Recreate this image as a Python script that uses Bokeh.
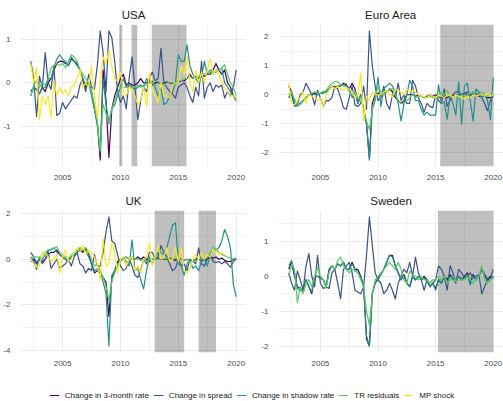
import numpy as np
import pandas as pd
from bokeh.plotting import figure
from bokeh.layouts import column, row
from bokeh.models import Range1d, FixedTicker, Legend, LegendItem
from bokeh.embed import file_html
from bokeh.resources import INLINE

nan = float("nan")

# quarterly dates 2002Q2 .. 2020Q1 as decimal years
quarters = pd.period_range("2002Q2", "2020Q1", freq="Q")
dates = [q.year + (q.quarter - 1) / 4 for q in quarters]

series_names = ["Change in 3-month rate", "Change in spread", "Change in shadow rate",
                "TR residuals", "MP shock"]
series_colors = ["#440154", "#3B528B", "#21908C", "#5DC863", "#FDE725"]

x_ticks = [2005, 2010, 2015, 2020]
x_tick_labels = ["2005", "2010", "2015", "2020"]
x_minor = [2002.5, 2007.5, 2012.5, 2017.5]

# ---------------- USA ----------------
usa_r3m = [
    -0.2, -0.1, -0.15, -0.25, -0.1, -0.2, 0.0, 0.1, 0.3, 0.45, 0.5, 0.5,
    0.45, 0.4, 0.55, 0.5, 0.45, 0.3, 0.05, -0.1, 0.0, -0.2, -0.6, -0.9,
    -1.78, 0.3, -0.4, -1.72, -0.6, -0.3, -0.1, 0.1, 0.2, -0.05, 0.0, -0.05,
    -0.05, 0.0, 0.1, 0.0, 0.0, 0.05, -0.05, 0.0, 0.02, -0.03, 0.0, 0.02,
    0.0, -0.02, 0.0, 0.02, 0.05, 0.05, 0.1, 0.2, 0.1, 0.15, 0.1, 0.2,
    0.15, 0.2, 0.2, 0.3, 0.45, 0.3, 0.2, 0.3, 0.0, -0.1, -0.3, -0.35]
usa_spread = [
    0.5, 0.1, -0.78, 0.15, -0.1, 0.7, 0.0, -0.15, 0.4, -0.75, -0.7, -0.45,
    -0.6, -0.5, -0.4, -0.3, -0.35, -0.05, 0.1, -0.2, 0.2, -0.1, -0.15, 0.4,
    1.2, 0.7, -0.2, 1.2, 1.05, 0.5, -0.2, -0.45, -0.3, -0.6, 0.1, 0.6,
    -0.1, -0.85, -0.4, -0.1, -0.2, 0.1, 0.25, 0.05, 0.1, 0.8, 0.0, -0.1,
    -0.2, -0.25, -0.35, -0.1, -0.05, 0.0, -0.1, -0.3, -0.45, -0.1, -0.3, 0.5,
    -0.35, -0.1, 0.0, -0.2, -0.05, -0.1, -0.05, -0.35, -0.2, -0.3, -0.1, 0.3]
usa_shadow = [
    -0.3, -0.1, -0.15, -0.25, -0.1, -0.1, 0.1, 0.1, 0.35, 0.55, 0.65, 0.55,
    0.5, 0.4, 0.6, 0.5, 0.4, 0.3, 0.1, -0.05, 0.0, -0.3, -0.6, -1.0,
    -1.6, 0.1, -0.5, -0.9, -0.6, -0.5, -0.3, -0.1, 0.1, -0.1, -0.05, -0.1,
    -0.15, -0.1, -0.05, -0.1, 0.1, 0.0, 0.05, -0.1, -0.3, -0.1, -0.5, -0.45,
    -0.3, -0.2, 0.0, 0.65, 0.5, 0.5, 0.88, 0.4, 0.2, 0.1, 0.0, 0.15,
    0.5, 0.2, 0.3, 0.25, 0.25, 0.3, 0.35, 0.0, -0.1, -0.2, -0.3, -0.42]
usa_tr = [
    -0.3, -0.05, 0.05, -0.1, 0.0, -0.05, 0.1, 0.35, 0.4, 0.45, 0.4, 0.45,
    0.35, 0.5, 0.65, 0.6, 0.5, 0.3, 0.2, 0.1, 0.0, -0.2, -0.5, -0.9,
    -1.55, -0.5, -0.7, -0.95, -0.6, -0.4, -0.2, -0.1, -0.1, -0.1, -0.1, -0.1,
    -0.1, -0.05, -0.1, -0.05, -0.05, 0.0, 0.0, -0.05, 0.0, 0.0, -0.05, 0.0,
    0.0, 0.0, 0.0, 0.05, 0.05, 0.1, 0.1, 0.15, 0.1, 0.1, 0.15, 0.2,
    0.2, 0.25, 0.25, 0.2, 0.3, 0.3, 0.35, 0.42, 0.2, 0.0, -0.1, -0.3]
usa_mp = [
    0.45, 0.0, 0.35, -0.85, -0.3, -0.5, -0.3, -0.8, 0.05, -0.3, -0.1, -0.25,
    -0.15, -0.3, -0.1, -0.05, 0.1, 0.3, -0.1, 0.0, -0.1, 0.4, -0.3, -0.8,
    0.0, 0.6, 0.45, 0.75, 0.4, 0.1, 0.05, 0.25, -0.2, -0.3, -0.1, -0.15,
    -0.3, -0.5, -0.4, -0.1, -0.55, 0.25, -0.15, -0.3, -0.45, 0.0, -0.3, -0.3,
    -0.35, -0.05, 0.0, 0.0, 0.4, 0.2, 0.6, 0.0, -0.2, 0.3, 0.0, 0.25,
    0.0, 0.3, 0.55, 0.2, 0.3, 0.2, 0.0, -0.1, -0.2, -0.3, -0.3, -0.35]
usa_shade_start = [2009.9, 2010.95, 2012.7]
usa_shade_end = [2010.15, 2011.45, 2015.7]
usa_yticks = [-1, 0, 1]
usa_ytick_labels = ["-1", "0", "1"]
usa_yminor = [-1.5, -0.5, 0.5]

# ---------------- Euro Area ----------------
eu_r3m = [
    0.3, 0.1, -0.3, -0.35, -0.3, -0.2, -0.1, 0.0, 0.0, 0.05, 0.0, 0.05,
    0.1, 0.1, 0.2, 0.3, 0.25, 0.3, 0.3, 0.4, 0.35, 0.2, 0.4, 0.2,
    -0.3, 0.0, -0.5, -1.0, -2.2, -0.3, 0.0, 0.05, 0.0, 0.1, 0.1, 0.2,
    0.1, -0.1, -0.2, -0.3, -0.2, 0.0, 0.0, 0.0, -0.05, 0.0, -0.05, -0.1,
    -0.05, 0.0, -0.05, 0.0, -0.1, -0.1, -0.05, -0.1, -0.05, -0.05, 0.0, 0.0,
    0.0, 0.05, 0.0, 0.0, 0.0, 0.0, -0.05, -0.05, -0.05, -0.1, -0.1, -0.05]
eu_spread = [
    -0.1, 0.0, -0.4, -0.35, 0.0, 0.1, 0.4, 0.2, 0.0, -0.35, 0.15, -0.1,
    -0.4, -0.2, -0.2, -0.1, 0.3, 0.2, -0.1, -0.45, -0.5, -0.1, 0.3, -0.35,
    -0.4, -0.3, 0.3, -0.5, 2.2, 1.0, 0.3, -0.2, -0.1, 0.3, -0.3, -0.5,
    0.0, -0.1, 0.4, -0.2, 0.0, -0.3, -0.3, 0.5, 0.3, -0.1, -0.3, -0.6,
    -0.3, -0.4, -0.45, 0.0, -0.2, -0.3, 0.2, -0.4, -0.2, 0.0, 0.1, 0.1,
    0.0, 0.05, 0.1, -0.05, 0.1, 0.0, 0.05, -0.1, -0.3, -0.55, -0.2, 0.0]
eu_shadow = [
    -0.1, 0.1, -0.3, -0.4, -0.3, -0.2, -0.1, 0.0, 0.05, 0.0, 0.0, 0.05,
    0.05, 0.1, 0.2, 0.3, 0.2, 0.3, 0.3, 0.35, 0.3, 0.2, -0.1, 0.1,
    -0.3, 0.0, -0.5, -1.0, -2.25, -0.5, -0.2, 0.6, -0.4, 0.2, 0.3, 0.4,
    0.3, 0.1, -0.3, -0.9, -0.3, 0.0, 0.5, 0.3, -0.2, -0.2, -0.5, -0.7,
    -0.6, -0.7, -0.7, -0.7, 0.35, -0.3, -0.25, -0.85, 0.0, -0.3, -0.7, 0.45,
    -1.0, 0.3, 0.4, -0.2, -0.9, 0.2, 0.1, -0.1, 0.0, -0.2, -0.85, 0.6]
eu_tr = [
    0.0, 0.1, -0.15, -0.35, -0.35, -0.2, -0.1, 0.0, 0.05, 0.1, 0.05, 0.05,
    0.1, 0.15, 0.3, 0.4, 0.45, 0.45, 0.35, 0.3, 0.3, 0.1, 0.0, 0.1,
    -0.1, -0.1, -0.5, -0.9, -1.2, -0.5, -0.1, 0.3, 0.1, 0.0, 0.1, 0.2,
    0.2, 0.0, -0.2, -0.3, -0.3, -0.2, -0.1, 0.0, -0.1, -0.05, -0.05, -0.1,
    -0.1, -0.05, -0.1, -0.05, -0.1, 0.1, 0.0, 0.15, -0.05, -0.1, 0.0, -0.1,
    0.0, -0.05, 0.0, 0.05, 0.1, -0.05, 0.0, 0.1, 0.0, -0.05, 0.0, 0.1]
eu_mp = [
    0.4, -0.3, -0.35, -0.2, -0.1, 0.1, -0.3, 0.0, -0.05, -0.1, -0.2, -0.1,
    -0.45, 0.0, 0.15, 0.3, 0.2, 0.3, 0.2, 0.15, 0.25, 0.2, 0.1, -0.1,
    0.0, 0.75, -0.9, -0.05, -0.2, 0.1, 0.0, 0.0, 0.0, 0.1, 0.15, 0.0,
    -0.1, 0.2, 0.15, 0.1, 0.0, 0.2, 0.1, 0.15, 0.1, 0.0, -0.05, -0.05,
    -0.1, 0.0, -0.05, -0.1, 0.0, -0.05, -0.1, 0.0, 0.0, -0.1, 0.0, -0.05,
    -0.1, -0.15, -0.05, -0.1, 0.0, -0.05, 0.0, 0.0, -0.05, 0.05, -0.05, 0.0]
eu_shade_start = [2015.4]
eu_shade_end = [2020.0]
eu_yticks = [-2, -1, 0, 1, 2]
eu_ytick_labels = ["-2", "-1", "0", "1", "2"]
eu_yminor = [-1.5, -0.5, 0.5, 1.5]

# ---------------- UK ----------------
uk_r3m = [
    -0.1, 0.0, -0.2, 0.0, -0.1, 0.0, 0.2, 0.3, 0.3, 0.4, 0.2, 0.1,
    0.0, -0.1, 0.1, 0.2, 0.3, 0.4, 0.3, 0.5, 0.2, -0.2, -0.6, -0.5,
    -0.6, -0.8, -1.0, -2.5, -0.8, -0.5, -0.1, 0.0, 0.05, 0.1, 0.0, 0.05,
    0.0, 0.1, 0.0, 0.1, 0.0, -0.1, 0.0, 0.0, 0.05, 0.0, 0.0, 0.0,
    0.05, 0.0, -0.05, 0.0, 0.0, -0.05, 0.0, -0.1, -0.1, 0.0, 0.0, -0.05,
    0.0, 0.0, 0.1, 0.05, 0.1, 0.0, 0.05, -0.05, -0.1, -0.1, 0.0, 0.0]
uk_spread = [
    0.3, 0.1, -0.15, 0.0, -0.2, 0.0, 0.35, -0.4, -0.2, 0.0, -0.4, -0.3,
    -0.2, 0.0, -0.3, 0.1, 0.3, -0.2, -0.3, -0.6, -0.4, -0.5, 0.2, -0.3,
    -0.3, 0.3, 1.2, 1.85, 0.8, 0.7, 0.2, -0.3, -0.5, -0.4, 0.0, -0.3,
    -0.7, -0.8, -0.5, 0.0, -0.2, 0.3, 0.3, 0.0, 0.1, 0.6, 0.3, 0.1,
    -0.2, -0.5, -0.4, 0.0, -0.3, -0.2, -0.5, 0.0, -0.1, -0.2, 0.5, -0.2,
    -0.3, 0.0, 0.2, -0.1, -0.15, -0.1, -0.2, -0.1, -0.2, -0.35, -0.1, 0.0]
uk_shadow = [
    0.1, -0.1, -0.45, 0.1, 0.0, 0.2, 0.4, 0.4, 0.5, 0.3, 0.2, 0.1,
    0.0, -0.1, 0.1, 0.2, 0.3, 0.5, 0.4, 0.4, 0.1, -0.2, -0.5, -0.4,
    -0.5, -1.0, -1.5, -3.8, -0.7, -0.5, -0.2, 0.0, 0.05, -0.1, -0.3, 0.85,
    -0.5, -0.4, -0.9, -1.3, -0.5, 0.1, -0.2, 0.1, 0.3, 0.3, 0.2, 0.5,
    1.0, 1.5, 1.6, -0.2, -0.3, -0.7, -0.2, 0.0, -0.4, -0.3, -0.5, -0.1,
    0.0, -0.3, 0.2, 0.5, 0.4, 0.5, 0.8, 1.3, 1.0, 0.5, -1.1, -1.65]
uk_tr = [
    0.0, 0.1, 0.1, 0.05, 0.2, 0.3, 0.4, 0.45, 0.5, 0.55, 0.3, 0.2,
    0.1, 0.0, 0.2, 0.3, 0.4, 0.5, 0.4, 0.5, 0.3, 0.0, -0.3, -0.2,
    -0.5, -0.8, -1.2, -1.8, -1.0, -0.6, -0.3, -0.1, 0.0, 0.1, 0.0, 0.1,
    0.0, 0.0, -0.05, 0.0, -0.1, -0.05, 0.0, 0.0, 0.0, 0.05, 0.0, 0.05,
    0.0, 0.0, 0.05, 0.0, 0.0, -0.05, 0.0, -0.1, -0.1, -0.05, 0.0, 0.0,
    0.05, 0.1, 0.3, 0.5, 0.45, 0.3, 0.2, 0.15, 0.1, 0.05, 0.0, 0.05]
uk_mp = [
    0.0, -0.2, -0.35, -0.3, 0.3, 0.3, 0.1, -0.1, 0.0, 0.2, -0.6, 0.1,
    0.4, -0.1, 0.0, 0.3, 0.5, 0.3, 0.6, 0.2, 0.4, 0.3, 0.1, -0.2,
    -0.9, 0.9, -0.3, -0.2, 0.7, 0.3, -0.6, 0.0, 0.1, -0.3, 0.0, 0.1,
    -0.5, -0.3, -0.6, 0.0, 0.1, 0.7, -0.3, 0.1, 0.6, 0.0, 0.1, 0.5,
    -0.1, 0.0, 0.5, -0.1, 0.5, -0.5, -0.6, -0.4, 0.0, 0.2, 0.0, 0.3,
    0.0, 0.2, 0.1, 0.45, 0.3, 0.2, 0.3, 0.2, nan, nan, nan, nan]
uk_shade_start = [2012.95, 2016.75]
uk_shade_end = [2015.5, 2018.25]
uk_yticks = [-4, -2, 0, 2]
uk_ytick_labels = ["-4", "-2", "0", "2"]
uk_yminor = [-3, -1, 1]

# ---------------- Sweden ----------------
se_r3m = [
    0.2, 0.4, 0.0, -0.3, -0.35, -0.4, -0.1, -0.3, -0.5, 0.0, 0.0, -0.05,
    -0.1, -0.3, 0.2, 0.3, 0.2, 0.35, 0.3, 0.4, 0.2, 0.2, 0.4, 0.2,
    0.2, 0.0, -0.3, -1.8, -2.0, -0.5, -0.2, -0.05, 0.05, 0.2, 0.4, 0.6,
    0.6, 0.3, 0.1, -0.1, 0.05, -0.2, -0.3, 0.0, -0.1, 0.0, -0.1, 0.0,
    -0.1, -0.3, -0.2, -0.35, -0.1, -0.2, 0.0, -0.1, 0.05, -0.05, -0.1, 0.0,
    -0.1, 0.0, 0.1, -0.2, 0.05, -0.1, 0.0, 0.2, 0.05, -0.1, 0.0, -0.05]
se_spread = [
    0.1, -0.2, -0.4, 0.15, -0.1, -0.4, 0.3, 0.65, 0.0, -0.3, 0.6, -0.2,
    -0.35, -0.3, -0.35, 0.1, 0.2, -0.2, -0.65, 0.2, 0.3, 0.4, 0.1, -0.4,
    -0.45, -0.5, -0.3, 0.6, 1.7, 0.9, 0.1, -0.1, -0.2, -0.5, -0.4, -0.2,
    -0.4, -0.65, -0.2, 0.0, 0.2, 0.1, 0.4, 0.0, 0.55, 0.1, -0.1, -0.4,
    -0.1, -0.3, -0.2, -0.1, 0.3, 0.2, 0.0, -0.4, 0.3, 0.1, -0.2, 0.2,
    0.1, -0.05, 0.0, 0.1, -0.05, 0.0, 0.05, -0.5, -0.3, -0.1, -0.05, 0.2]
se_shadow = [
    0.3, 0.45, 0.1, -0.35, -0.4, -0.45, -0.1, -0.3, -0.45, 0.0, 0.0, -0.05,
    -0.1, -0.3, 0.15, 0.3, 0.2, 0.35, 0.3, 0.4, 0.2, 0.2, 0.35, 0.2,
    0.1, 0.0, -0.3, -1.7, -2.0, -0.5, -0.2, -0.1, 0.05, 0.2, 0.4, 0.6,
    0.55, 0.3, 0.1, -0.1, 0.0, -0.2, -0.3, 0.0, -0.1, 0.0, -0.1, -0.05,
    -0.15, -0.3, -0.2, -0.4, -0.1, -0.2, 0.0, -0.15, 0.0, -0.1, -0.1, 0.0,
    -0.1, -0.05, 0.05, -0.25, 0.0, -0.1, 0.0, 0.25, 0.0, -0.15, -0.1, 0.0]
se_tr = [
    0.0, 0.35, 0.2, -0.75, -0.3, -0.5, -0.2, -0.1, -0.3, 0.0, 0.25, 0.0,
    -0.1, -0.35, 0.1, 0.3, 0.2, 0.45, 0.55, 0.3, 0.2, 0.1, 0.2, 0.15,
    0.1, -0.1, -0.3, -1.0, -1.4, -0.5, -0.1, 0.0, 0.1, 0.2, 0.3, 0.4,
    0.3, 0.2, 0.4, 0.2, -0.1, -0.2, 0.15, 0.05, 0.0, -0.1, 0.0, -0.1,
    -0.1, -0.2, -0.1, -0.1, 0.0, -0.1, 0.0, -0.2, -0.1, 0.0, -0.15, -0.1,
    -0.1, -0.1, 0.0, -0.1, -0.2, -0.1, 0.0, 0.3, -0.1, -0.2, -0.1, -0.05]
se_mp = [nan] * len(se_r3m)  # no MP shock series for Sweden
se_shade_start = [2015.2]
se_shade_end = [2020.0]
se_yticks = [-2, -1, 0, 1]
se_ytick_labels = ["-2", "-1", "0", "1"]
se_yminor = [-1.5, -0.5, 0.5, 1.5]

FONT = "Liberation Sans"


def make_panel(title, series, shade_start, shade_end, yticks, ylabels, yminor,
               width, height, bl, br, bt, bb):
    allv = np.array([v for s in series for v in s], dtype=float)
    lo, hi = np.nanmin(allv), np.nanmax(allv)
    pad = 0.05 * (hi - lo)
    ylo, yhi = lo - pad, hi + pad
    xlo, xhi = min(dates), max(dates)
    xpad = 0.05 * (xhi - xlo)
    p = figure(width=width, height=height, output_backend="svg", toolbar_location=None,
               x_range=Range1d(xlo - xpad, xhi + xpad), y_range=Range1d(ylo, yhi),
               min_border_left=bl, min_border_right=br, min_border_top=bt,
               min_border_bottom=bb)
    p.outline_line_color = None
    p.background_fill_color = "white"
    p.border_fill_color = "white"
    p.title.text = title
    p.title.align = "center"
    p.title.text_font = FONT
    p.title.text_font_size = "11.5px"
    p.title.text_font_style = "normal"
    p.title.text_color = "#1A1A1A"
    p.title.standoff = 7

    p.xaxis.ticker = FixedTicker(ticks=x_ticks, minor_ticks=x_minor)
    p.xaxis.major_label_overrides = dict(zip(x_ticks, x_tick_labels))
    p.yaxis.ticker = FixedTicker(ticks=yticks, minor_ticks=yminor)
    p.yaxis.major_label_overrides = dict(zip(yticks, ylabels))
    for ax in (p.xaxis, p.yaxis):
        ax.axis_line_color = None
        ax.major_tick_line_color = None
        ax.minor_tick_line_color = None
        ax.major_label_text_font = FONT
        ax.major_label_text_font_size = "8px"
        ax.major_label_text_color = "#4D4D4D"
        ax.major_label_standoff = 4
    p.xaxis.major_label_standoff = 2
    for g in (p.xgrid, p.ygrid):
        g.grid_line_color = "#EBEBEB"
        g.grid_line_width = 1.1
        g.minor_grid_line_color = "#EBEBEB"
        g.minor_grid_line_width = 0.6

    p.quad(left=shade_start, right=shade_end, bottom=ylo, top=yhi,
           fill_color="black", fill_alpha=0.25, line_color=None)
    for s, c in zip(series, series_colors):
        p.line(dates, s, line_color=c, line_width=1.2, line_join="round")
    return p


LW, RW = 258, 245
TH, BH, LH = 185, 183, 32

p_usa = make_panel("USA", [usa_r3m, usa_spread, usa_shadow, usa_tr, usa_mp],
                   usa_shade_start, usa_shade_end, usa_yticks, usa_ytick_labels, usa_yminor,
                   LW, TH, 20, 12, 24, 19)
p_eu = make_panel("Euro Area", [eu_r3m, eu_spread, eu_shadow, eu_tr, eu_mp],
                  eu_shade_start, eu_shade_end, eu_yticks, eu_ytick_labels, eu_yminor,
                  RW, TH, 19, 0, 24, 19)
p_uk = make_panel("UK", [uk_r3m, uk_spread, uk_shadow, uk_tr, uk_mp],
                  uk_shade_start, uk_shade_end, uk_yticks, uk_ytick_labels, uk_yminor,
                  LW, BH, 20, 12, 25, 15)
p_se = make_panel("Sweden", [se_r3m, se_spread, se_shadow, se_tr, se_mp],
                  se_shade_start, se_shade_end, se_yticks, se_ytick_labels, se_yminor,
                  RW, BH, 19, 0, 25, 15)

# legend strip (legend-only renderers lie outside the visible range)
leg = figure(width=LW + RW, height=LH, output_backend="svg", toolbar_location=None,
             x_range=Range1d(0, 1), y_range=Range1d(0, 1), min_border=0)
leg.axis.visible = False
leg.grid.visible = False
leg.outline_line_color = None
items = []
for name, c in zip(series_names, series_colors):
    r = leg.line(x=[5, 6], y=[5, 6], line_color=c, line_width=1.2)
    items.append(LegendItem(label=name, renderers=[r]))
legend = Legend(items=items, orientation="horizontal", location="bottom_center",
                margin=0, padding=0, spacing=4, glyph_width=10, glyph_height=10,
                label_standoff=6, label_height=10,
                label_text_font=FONT, label_text_font_size="8px",
                label_text_color="#1A1A1A", background_fill_alpha=0,
                border_line_color=None)
leg.add_layout(legend, "center")

layout = column(row(p_usa, p_eu), row(p_uk, p_se), leg)
open("out.html", "w").write(file_html(layout, INLINE))
